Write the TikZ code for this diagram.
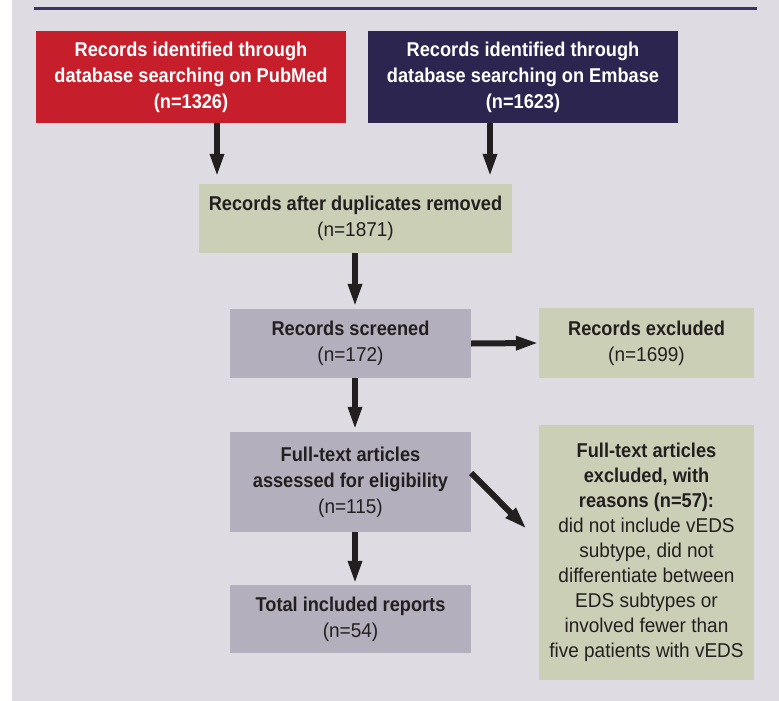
\documentclass[tikz,border=0pt]{standalone}
\usepackage{fontspec}
\setmainfont{Liberation Sans}[FakeStretch=0.95]
\newfontfamily\cb{Liberation Sans Bold}[FakeStretch=0.91]
\usetikzlibrary{arrows.meta}
\definecolor{bg}{HTML}{DEDBE2}
\definecolor{pubred}{HTML}{C61F2B}
\definecolor{embnavy}{HTML}{2B2550}
\definecolor{sage}{HTML}{CBCFB5}
\definecolor{lav}{HTML}{B4AFBD}
\definecolor{ink}{HTML}{231F20}
\definecolor{hdr}{HTML}{3B3563}
\begin{document}
\begin{tikzpicture}[x=1pt,y=-1pt,
  box/.style={rectangle, inner sep=0pt, align=center,
    font=\fontsize{20}{26}\selectfont, text=ink},
  arr/.style={-{Triangle[length=23pt,width=13pt]}, line width=6pt, draw=ink}]
\useasboundingbox (0,0) rectangle (779,701);
\fill[bg] (12,0) rectangle (779,701);
\draw[line width=3pt, hdr] (34,9) -- (757,9);

\node[box, fill=pubred, text=white, minimum width=310pt, minimum height=92pt] (pubmed) at (191,77)
  {\cb Records identified through\\\cb database searching on PubMed\\\cb (n=1326)};
\node[box, fill=embnavy, text=white, minimum width=310pt, minimum height=92pt] (embase) at (523,77)
  {\cb Records identified through\\\cb database searching on Embase\\\cb (n=1623)};
\node[box, fill=sage, minimum width=313pt, minimum height=69pt] (dup) at (355.5,218.5)
  {\cb Records after duplicates removed\\(n=1871)};
\node[box, fill=lav, minimum width=241pt, minimum height=69pt] (screened) at (350.5,343.5)
  {\cb Records screened\\(n=172)};
\node[box, fill=sage, minimum width=215pt, minimum height=70pt] (excl) at (646.5,343)
  {\cb Records excluded\\(n=1699)};
\node[box, fill=lav, minimum width=241pt, minimum height=100pt] (full) at (350.5,482)
  {\cb Full-text articles\\\cb assessed for eligibility\\(n=115)};
\node[box, fill=sage, minimum width=215pt, minimum height=255pt, font=\fontsize{20}{25}\selectfont] (ftexcl) at (646.5,552.5)
  {\cb Full-text articles\\\cb excluded, with\\\cb reasons (n=57):\\did not include vEDS\\subtype, did not\\differentiate between\\EDS subtypes or\\involved fewer than\\five patients with vEDS};
\node[box, fill=lav, minimum width=241pt, minimum height=68pt] (total) at (350.5,619)
  {\cb Total included reports\\(n=54)};

\draw[arr, shorten >=7pt] ([xshift=26pt]pubmed.south) -- ([xshift=-138.5pt]dup.north);
\draw[arr, shorten >=7pt] ([xshift=-33pt]embase.south) -- ([xshift=134.5pt]dup.north);
\draw[arr, shorten >=2pt] ([xshift=-0.5pt]dup.south) -- ([xshift=4.5pt]screened.north);
\draw[arr] (screened.east) -- (excl.west);
\draw[arr, shorten >=2pt] ([xshift=4.5pt]screened.south) -- ([xshift=4.5pt]full.north);
\draw[arr, shorten >=1pt] ([xshift=4.5pt]full.south) -- ([xshift=4.5pt]total.north);
\draw[arr] ([yshift=9pt]full.east) -- ([xshift=-12pt,yshift=23.5pt]ftexcl.west);
\end{tikzpicture}
\end{document}
